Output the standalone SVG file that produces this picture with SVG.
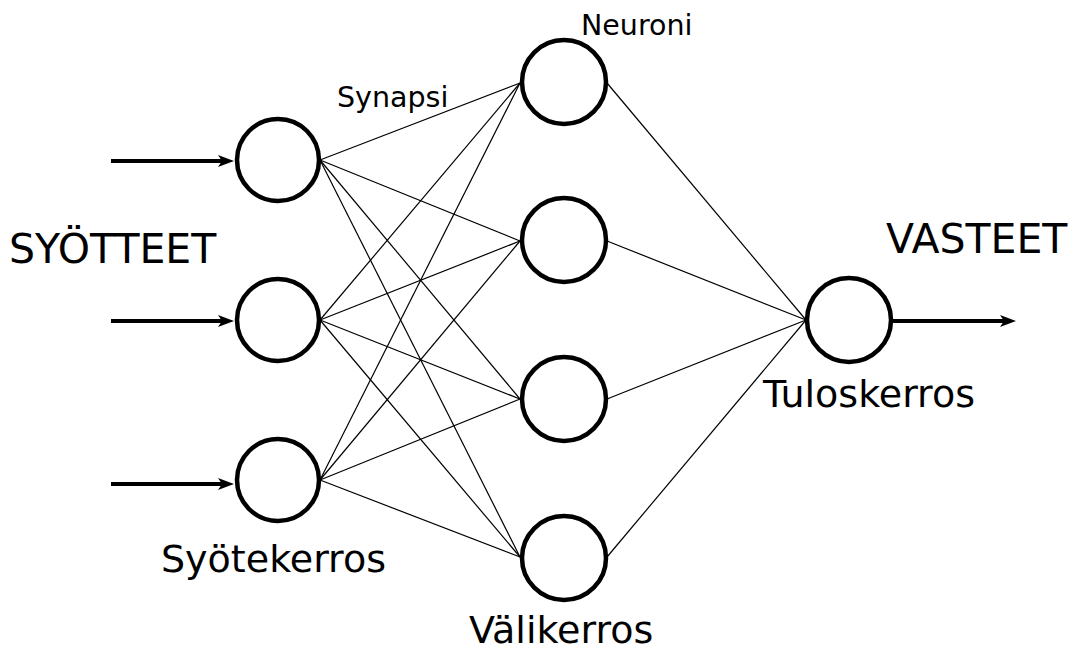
<svg xmlns="http://www.w3.org/2000/svg" width="1076" height="653" viewBox="0 0 1076 653">
  <defs>
    <style>
      .neuron { fill: #fff; stroke: #000; stroke-width: 4.5; }
      .syn { stroke: #000; stroke-width: 1.2; fill: none; }
      .io { stroke: #000; stroke-width: 4; fill: none; }
      .head { fill: #000; stroke: none; }
      text { font-family: "DejaVu Sans", Verdana, sans-serif; fill: #000; }
      .big { font-size: 41px; }
      .layer { font-size: 38px; }
      .small { font-size: 28.5px; }
    </style>
  </defs>
  <rect width="1076" height="653" fill="#fff"/>

  <!-- synapses -->
  <g id="connectors">
    <!-- input layer to hidden layer -->
    <line class="syn" x1="320" y1="160" x2="520" y2="83"/>
    <line class="syn" x1="320" y1="160" x2="520" y2="241"/>
    <line class="syn" x1="320" y1="160" x2="520" y2="399"/>
    <line class="syn" x1="320" y1="160" x2="520" y2="557"/>
    <line class="syn" x1="320" y1="320" x2="520" y2="83"/>
    <line class="syn" x1="320" y1="320" x2="520" y2="241"/>
    <line class="syn" x1="320" y1="320" x2="520" y2="399"/>
    <line class="syn" x1="320" y1="320" x2="520" y2="557"/>
    <line class="syn" x1="320" y1="480" x2="520" y2="83"/>
    <line class="syn" x1="320" y1="480" x2="520" y2="241"/>
    <line class="syn" x1="320" y1="480" x2="520" y2="399"/>
    <line class="syn" x1="320" y1="480" x2="520" y2="557"/>
    <!-- hidden layer to output -->
    <line class="syn" x1="607" y1="83" x2="806" y2="320"/>
    <line class="syn" x1="607" y1="241" x2="806" y2="320"/>
    <line class="syn" x1="607" y1="399" x2="806" y2="320"/>
    <line class="syn" x1="607" y1="557" x2="806" y2="320"/>
    <!-- input arrows -->
    <line class="io" x1="111" y1="161" x2="224" y2="161"/>
    <path class="head" d="M234,161 L218,155 L222,161 L218,167 Z"/>
    <line class="io" x1="111" y1="321" x2="224" y2="321"/>
    <path class="head" d="M234,321 L218,315 L222,321 L218,327 Z"/>
    <line class="io" x1="111" y1="484" x2="224" y2="484"/>
    <path class="head" d="M234,484 L218,478 L222,484 L218,490 Z"/>
    <!-- output arrow -->
    <line class="io" x1="892" y1="321" x2="1006" y2="321"/>
    <path class="head" d="M1016,321 L1000,315 L1004,321 L1000,327 Z"/>
  </g>

  <!-- input layer -->
  <g id="in1"><circle class="neuron" cx="278" cy="160" r="41"/></g>
  <g id="in2"><circle class="neuron" cx="278" cy="320" r="41"/></g>
  <g id="in3"><circle class="neuron" cx="278" cy="480" r="41"/></g>

  <!-- hidden layer -->
  <g id="h1"><circle class="neuron" cx="564" cy="82" r="42"/></g>
  <g id="h2"><circle class="neuron" cx="564" cy="240" r="42"/></g>
  <g id="h3"><circle class="neuron" cx="564" cy="399" r="42"/></g>
  <g id="h4"><circle class="neuron" cx="564" cy="558" r="42"/></g>

  <!-- output layer -->
  <g id="out"><circle class="neuron" cx="849" cy="320" r="42"/></g>

  <!-- labels -->
  <g id="labels">
    <text class="big" x="9" y="263">SYÖTTEET</text>
    <text class="big" x="886" y="253">VASTEET</text>
    <text class="layer" x="161" y="572">Syötekerros</text>
    <text class="layer" x="469" y="643">Välikerros</text>
    <text class="layer" x="763" y="407">Tuloskerros</text>
    <text class="small" x="581" y="35">Neuroni</text>
    <text class="small" x="337" y="107">Synapsi</text>
  </g>
</svg>
